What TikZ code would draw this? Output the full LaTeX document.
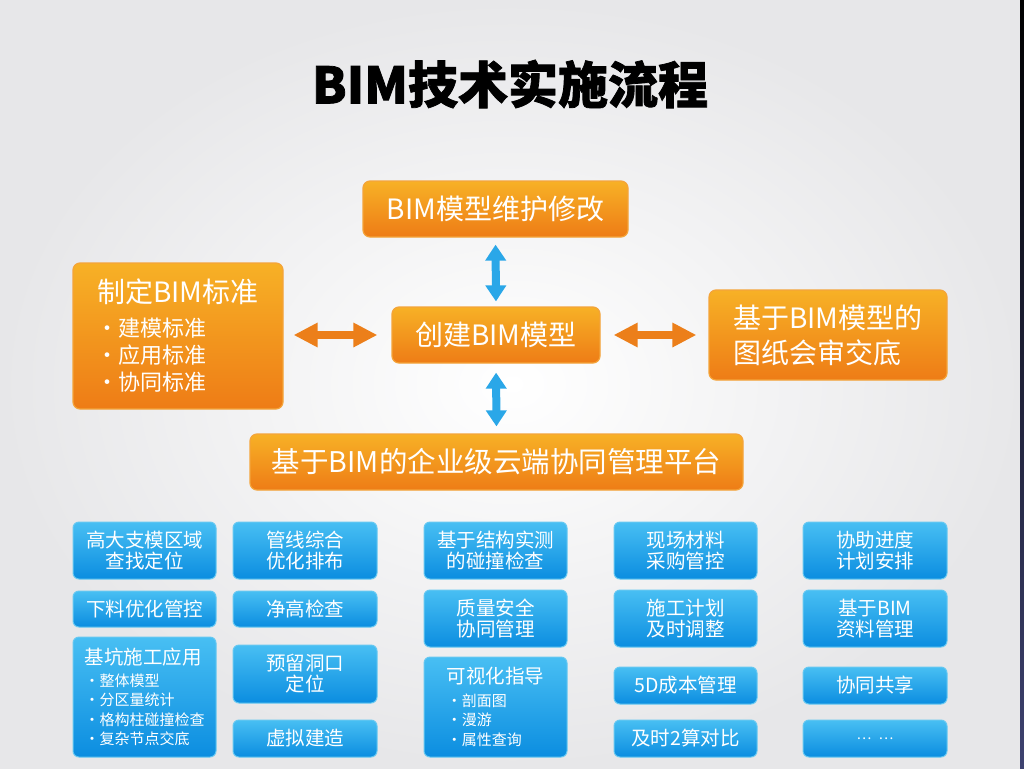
\documentclass[tikz,border=0pt]{standalone}
\usepackage{fontspec}
\setmainfont{Noto Sans CJK SC}
\usetikzlibrary{arrows.meta}
\definecolor{otop}{HTML}{F7B126}
\definecolor{obot}{HTML}{EE7C16}
\definecolor{obord}{HTML}{F4A43A}
\definecolor{btop}{HTML}{48BFF3}
\definecolor{bbot}{HTML}{0B8DE0}
\definecolor{bbord}{HTML}{66C8F1}
\definecolor{oarr}{HTML}{EC7F1A}
\definecolor{barr}{HTML}{2AA7E8}
\definecolor{bgout}{HTML}{E7E7E9}
\tikzset{
  obox/.style={rounded corners=7pt, draw=obord, line width=1.2pt, top color=otop, bottom color=obot,
    text=white, align=center, inner sep=0pt, font=\fontsize{28}{35}\selectfont},
  bbox/.style={rounded corners=6pt, draw=bbord, line width=1pt, top color=btop, bottom color=bbot,
    text=white, align=center, inner sep=0pt, font=\fontsize{19.5}{21}\selectfont},
  oarrow/.style={draw=oarr, line width=8pt, {Triangle[width=23pt,length=24pt]}-{Triangle[width=23pt,length=24pt]}},
  barrow/.style={draw=barr, line width=8pt, {Triangle[width=20pt,length=16pt]}-{Triangle[width=20pt,length=16pt]}},
  titlestyle/.style={font=\fontsize{50}{54}\selectfont\bfseries\addfontfeature{FakeBold=1.5}, text=black, inner sep=0pt}
}
\begin{document}
\begin{tikzpicture}[x=1pt,y=-1pt]
\useasboundingbox (0,0) rectangle (1024,768);
\fill[inner color=white, outer color=bgout] (0,0) rectangle (1024,768);
\fill[top color=black, bottom color={rgb,255:red,62;green,66;blue,112}] (1020,0) rectangle (1024,768);

\node[titlestyle] (title) at (510,84) {BIM技术实施流程};

% orange boxes
\node[obox, minimum width=265, minimum height=56] (maint) at (495.5,209) {BIM模型维护修改};
\node[obox, minimum width=208, minimum height=56] (create) at (496,335) {创建BIM模型};
\node[obox, minimum width=210, minimum height=146, align=left, font=\fontsize{22}{27}\selectfont] (std) at (178,336)
  {{\fontsize{28}{34}\selectfont 制定BIM标准}\\[7pt]
   \hspace{-1pt}·建模标准\\
   \hspace{-1pt}·应用标准\\
   \hspace{-1pt}·协同标准};
\node[obox, minimum width=238, minimum height=90, align=left] (review) at (828,335)
  {基于BIM模型的\\图纸会审交底};
\node[obox, minimum width=493, minimum height=56, font=\fontsize{28.5}{35}\selectfont] (platform) at (496.5,462)
  {基于BIM的企业级云端协同管理平台};

% arrows
\draw[barrow, shorten <=7pt, shorten >=5pt] (maint.south) -- (create.north);
\draw[barrow, shorten <=9pt, shorten >=7pt] (create.south) -- (platform.north);
\draw[oarrow, shorten <=10pt, shorten >=14pt] (std.east |- create.west) -- (create.west);
\draw[oarrow, shorten <=13pt, shorten >=12pt] (create.east) -- (review.west |- create.east);

% blue boxes column 1
\node[bbox, minimum width=143, minimum height=57] (b11) at (144.5,550.5) {高大支模区域\\查找定位};
\node[bbox, minimum width=143, minimum height=36] (b12) at (144.5,609) {下料优化管控};
\node[bbox, minimum width=143, minimum height=120, align=left, font=\fontsize{15}{19.5}\selectfont] (b13) at (144.5,697)
  {{\fontsize{19.5}{21}\selectfont 基坑施工应用}\\[2pt]
   ·整体模型\\
   ·分区量统计\\
   ·格构柱碰撞检查\\
   ·复杂节点交底};
% column 2
\node[bbox, minimum width=144, minimum height=57] (b21) at (305,550.5) {管线综合\\优化排布};
\node[bbox, minimum width=144, minimum height=36] (b22) at (305,609) {净高检查};
\node[bbox, minimum width=144, minimum height=58] (b23) at (305,674) {预留洞口\\定位};
\node[bbox, minimum width=144, minimum height=37] (b24) at (305,738.5) {虚拟建造};
% column 3
\node[bbox, minimum width=143, minimum height=57] (b31) at (495.5,550.5) {基于结构实测\\的碰撞检查};
\node[bbox, minimum width=143, minimum height=57] (b32) at (495.5,618.5) {质量安全\\协同管理};
\node[bbox, minimum width=143, minimum height=100, align=left, font=\fontsize{15}{19.5}\selectfont] (b33) at (495.5,707)
  {{\fontsize{19.5}{21}\selectfont 可视化指导}\\[3pt]
   ·剖面图\\
   ·漫游\\
   ·属性查询};
% column 4
\node[bbox, minimum width=143, minimum height=57] (b41) at (685.5,550.5) {现场材料\\采购管控};
\node[bbox, minimum width=143, minimum height=57] (b42) at (685.5,618.5) {施工计划\\及时调整};
\node[bbox, minimum width=143, minimum height=37] (b43) at (685.5,685.5) {5D成本管理};
\node[bbox, minimum width=143, minimum height=37] (b44) at (685.5,738.5) {及时2算对比};
% column 5
\node[bbox, minimum width=144, minimum height=57] (b51) at (875,550.5) {协助进度\\计划安排};
\node[bbox, minimum width=144, minimum height=57] (b52) at (875,618.5) {基于BIM\\资料管理};
\node[bbox, minimum width=144, minimum height=37] (b53) at (875,685.5) {协同共享};
\node[bbox, minimum width=144, minimum height=37, font=\fontsize{14}{18}\selectfont] (b54) at (875,738.5) {…\hspace{7pt}…};
\end{tikzpicture}
\end{document}
